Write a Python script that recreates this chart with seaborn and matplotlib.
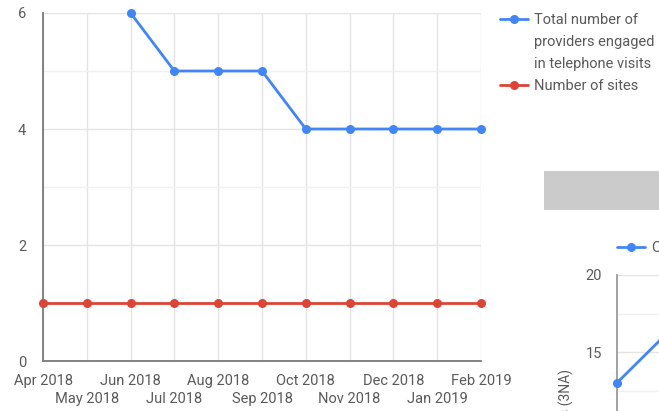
import numpy as np
import pandas as pd
import matplotlib
matplotlib.use("Agg")
import matplotlib.pyplot as plt
from matplotlib.lines import Line2D
from matplotlib.patches import Rectangle
import seaborn as sns

# ---------------- data ----------------
months = ["Apr 2018", "May 2018", "Jun 2018", "Jul 2018", "Aug 2018", "Sep 2018",
          "Oct 2018", "Nov 2018", "Dec 2018", "Jan 2019", "Feb 2019"]
providers = [np.nan, np.nan, 6, 5, 5, 5, 4, 4, 4, 4, 4]
sites = [1, 1, 1, 1, 1, 1, 1, 1, 1, 1, 1]
series_names = ["Total number of providers engaged in telephone visits", "Number of sites"]
legend_lines = ["Total number of", "providers engaged", "in telephone visits", "Number of sites"]
y_ticks = [0, 2, 4, 6]

# partial second chart (cut off at the right edge of the screenshot)
second_values = [13, 16.1]
second_label = "C"
second_ylabel = "s (3NA)"
second_ticks = [15, 20]

BLUE = "#4285F4"
RED = "#DB4437"
TXT = "#5a5a5a"
FONT = "Roboto"
FS = 10.5

sns.set_theme(style="white")
plt.rcParams["font.family"] = [FONT, "DejaVu Sans"]

W, H = 659, 411
fig = plt.figure(figsize=(W / 100, H / 100), dpi=100)

def fx(px):
    return px / W

def fy(py):
    return 1 - py / H

# ---------------- main chart ----------------
ax = fig.add_axes([fx(43), fy(361), fx(481) - fx(43), fy(13) - fy(361)])
df = pd.DataFrame({
    "x": list(range(len(months))) * 2,
    "value": providers + sites,
    "series": [series_names[0]] * len(months) + [series_names[1]] * len(months),
})
sns.lineplot(data=df, x="x", y="value", hue="series",
             palette=[BLUE, RED], marker="o", markersize=6.5, markeredgewidth=0,
             linewidth=2, ax=ax, legend=False, clip_on=False, zorder=5)

ax.set_xlim(0, len(months) - 1)
ax.set_ylim(0, 6)
ax.set_xlabel("")
ax.set_ylabel("")

even = list(range(0, len(months), 2))
odd = list(range(1, len(months), 2))
ax.set_xticks(even)
ax.set_xticklabels([months[i] for i in even], fontsize=FS, color=TXT)
ax.set_xticks(odd, minor=True)
ax.set_xticklabels([months[i] for i in odd], minor=True, fontsize=FS, color=TXT)
ax.set_yticks(y_ticks)
ax.set_yticklabels([str(v) for v in y_ticks], fontsize=FS, color=TXT)
ax.set_yticks([1, 3, 5], minor=True)
ax.tick_params(axis="x", which="major", length=0, pad=9)
ax.tick_params(axis="x", which="minor", length=0, pad=22.5)
ax.tick_params(axis="y", which="both", length=0, pad=12)

ax.grid(True, which="both", axis="x", color="#e4e4e4", linewidth=1)
ax.grid(True, which="major", axis="y", color="#e4e4e4", linewidth=1)
ax.grid(True, which="minor", axis="y", color="#f0f0f0", linewidth=1)
ax.set_axisbelow(True)
for s in ["top", "right"]:
    ax.spines[s].set_visible(False)
for s in ["left", "bottom"]:
    ax.spines[s].set_color("#7a7a7a")
    ax.spines[s].set_linewidth(1.3)

# legend
blank = Line2D([], [], linestyle="none", marker=None)
h_blue = Line2D([], [], color=BLUE, linewidth=2, marker="o", markersize=6.5, markeredgewidth=0)
h_red = Line2D([], [], color=RED, linewidth=2, marker="o", markersize=6.5, markeredgewidth=0)
leg = fig.legend([h_blue, blank, blank, h_red], legend_lines,
                 loc="upper left", bbox_to_anchor=(fx(500), fy(13)),
                 bbox_transform=fig.transFigure, frameon=False, fontsize=FS,
                 handlelength=1.9, handletextpad=0.42, labelspacing=0.56,
                 borderpad=0, borderaxespad=0)
for t in leg.get_texts():
    t.set_color(TXT)

# ---------------- partial second chart ----------------
fig.patches.append(Rectangle((fx(544), fy(210)), fx(659) - fx(544), fy(171) - fy(210),
                             transform=fig.transFigure, facecolor="#cbcbcb",
                             edgecolor="none", zorder=0))

top_px, p15_px = 275, 352
unit = (p15_px - top_px) / 5.0
bottom_val = 10
bottom_px = top_px + (20 - bottom_val) * unit
ax2 = fig.add_axes([fx(617), fy(bottom_px), 0.6, fy(top_px) - fy(bottom_px)])
df2 = pd.DataFrame({"x": list(range(len(second_values))), "value": second_values,
                    "series": [second_label] * len(second_values)})
sns.lineplot(data=df2, x="x", y="value", color=BLUE, marker="o", markersize=6.5,
             markeredgewidth=0, linewidth=2, ax=ax2, legend=False, clip_on=False, zorder=5)
ax2.set_xlim(0, 8.2)
ax2.set_ylim(bottom_val, 20)
ax2.set_yticks(second_ticks)
ax2.set_yticklabels([str(v) for v in second_ticks], fontsize=FS, color=TXT)
ax2.set_yticks([12.5, 17.5], minor=True)
ax2.set_xticks([])
ax2.set_xlabel("")
ax2.set_ylabel("")
ax2.tick_params(axis="y", length=0, pad=11)
ax2.tick_params(axis="y", which="minor", length=0)
ax2.grid(True, which="major", axis="y", color="#e4e4e4", linewidth=1)
ax2.grid(True, which="minor", axis="y", color="#f0f0f0", linewidth=1)
ax2.set_axisbelow(True)
for s in ["top", "right", "bottom"]:
    ax2.spines[s].set_visible(False)
ax2.spines["left"].set_color("#9a9a9a")
ax2.spines["left"].set_linewidth(1.3)

# rotated axis title of the second chart (partly cut off, as in the screenshot)
fig.text(fx(566), fy(369), second_ylabel, rotation=90, ha="center", va="top",
         fontsize=FS - 0.5, color=TXT)

h2 = Line2D([], [], color=BLUE, linewidth=2, marker="o", markersize=6.5, markeredgewidth=0)
leg2 = fig.legend([h2], [second_label], loc="center left",
                  bbox_to_anchor=(fx(617), fy(248)), bbox_transform=fig.transFigure,
                  frameon=False, fontsize=FS, handlelength=1.9, handletextpad=0.42,
                  borderpad=0, borderaxespad=0)
for t in leg2.get_texts():
    t.set_color(TXT)

fig.savefig("out.png", dpi=100)
